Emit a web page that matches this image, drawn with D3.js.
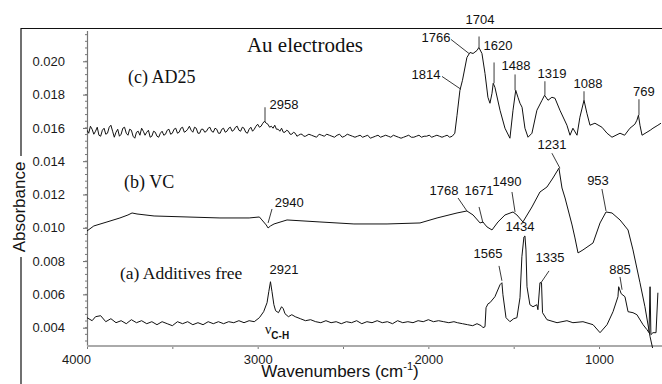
<!DOCTYPE html>
<html><head><meta charset="utf-8">
<script src="https://cdn.jsdelivr.net/npm/d3@7"></script>
<style>
html,body{margin:0;padding:0;background:#fff;}
svg{display:block;}
</style></head>
<body>
<svg id="chart" width="662" height="384"></svg>
<script>
// FTIR spectra on Au electrodes: [wavenumber (cm-1), absorbance]
const spectrumA = [ // (a) additives free
  [4000,.00460],[3970,.00442],[3950,.00466],[3920,.00472],[3890,.00436],[3860,.00454],[3830,.00430],[3800,.00442],
  [3770,.00424],[3740,.00448],[3710,.00430],[3680,.00442],[3650,.00424],[3620,.00436],[3590,.00418],[3560,.00436],
  [3530,.00424],[3500,.00412],[3470,.00436],[3440,.00424],[3410,.00436],[3380,.00418],[3350,.00430],[3320,.00418],
  [3290,.00436],[3260,.00424],[3230,.00436],[3200,.00424],[3170,.00436],[3140,.00430],[3110,.00442],[3080,.00430],
  [3050,.00442],[3020,.00436],[2990,.00460],[2965,.00496],[2945,.00550],[2935,.00616],[2925,.00676],[2916,.00616],
  [2905,.00538],[2895,.00502],[2878,.00490],[2860,.00526],[2850,.00514],[2840,.00484],[2820,.00466],[2800,.00478],
  [2780,.00466],[2750,.00454],[2720,.00442],[2690,.00448],[2660,.00436],[2630,.00430],[2600,.00442],[2570,.00430],
  [2540,.00436],[2510,.00424],[2480,.00436],[2450,.00430],[2420,.00442],[2390,.00424],[2360,.00436],[2330,.00430],
  [2300,.00442],[2270,.00430],[2240,.00436],[2210,.00424],[2180,.00442],[2150,.00430],[2120,.00436],[2090,.00430],
  [2060,.00442],[2030,.00436],[2000,.00448],[1970,.00436],[1940,.00442],[1910,.00436],[1880,.00430],[1850,.00436],
  [1830,.00430],[1800,.00424],[1770,.00418],[1740,.00412],[1715,.00424],[1690,.00412],[1680,.00400],[1668,.00406],
  [1662,.00520],[1650,.00544],[1639,.00550],[1610,.00586],[1580,.00658],[1569,.00670],[1563,.00598],[1545,.00460],
  [1522,.00436],[1500,.00454],[1481,.00460],[1463,.00580],[1452,.00826],[1440,.00945],[1434,.00951],[1428,.00867],
  [1422,.00646],[1405,.00538],[1387,.00526],[1364,.00538],[1358,.00508],[1346,.00670],[1337,.00670],[1331,.00490],
  [1305,.00448],[1246,.00430],[1188,.00442],[1153,.00430],[1094,.00436],[1035,.00418],[994,.00370],[953,.00418],
  [918,.00496],[889,.00586],[885,.00646],[870,.00604],[848,.00586],[830,.00496],[801,.00490],[778,.00478],
  [742,.00418],[719,.00388],[707,.00370],[701,.00646],[696,.00358],[684,.00370],[666,.00370],[655,.00610]
];
const spectrumB = [ // (b) VC
  [4000,.00981],[3960,.01011],[3883,.01035],[3807,.01059],[3760,.01077],[3736,.01089],[3707,.01083],[3607,.01071],
  [3414,.01065],[3221,.01059],[3050,.01059],[2990,.01065],[2975,.01047],[2950,.01017],[2939,.00999],[2925,.01011],
  [2904,.01023],[2828,.01047],[2635,.01035],[2436,.01023],[2242,.01023],[2049,.01029],[1949,.01059],[1832,.01089],
  [1774,.01101],[1738,.01077],[1697,.01029],[1680,.01035],[1671,.01023],[1656,.01005],[1627,.00987],[1592,.01035],
  [1551,.01077],[1504,.01095],[1481,.01077],[1446,.01035],[1393,.01125],[1346,.01215],[1305,.01245],[1270,.01299],
  [1235,.01358],[1217,.01239],[1199,.01179],[1158,.01017],[1141,.00939],[1123,.00849],[1094,.00867],[1035,.00909],
  [994,.01029],[959,.01095],[924,.01089],[877,.01047],[830,.00987],[801,.00867],[760,.00670],[731,.00526],
  [701,.00346],[684,.00268]
];
const spectrumC = [ // (c) AD25
  [4000,.01586],[3990,.01568],[3980,.01610],[3970,.01592],[3960,.01562],[3950,.01580],[3940,.01604],[3930,.01556],
  [3920,.01550],[3910,.01586],[3900,.01598],[3890,.01562],[3880,.01568],[3870,.01604],[3860,.01616],[3850,.01580],
  [3840,.01544],[3830,.01574],[3820,.01592],[3810,.01550],[3800,.01562],[3790,.01598],[3780,.01604],[3770,.01568],
  [3760,.01556],[3750,.01592],[3740,.01586],[3730,.01550],[3720,.01538],[3710,.01574],[3700,.01580],[3690,.01556],
  [3680,.01598],[3670,.01580],[3660,.01556],[3650,.01574],[3640,.01586],[3630,.01544],[3620,.01550],[3610,.01580],
  [3600,.01574],[3590,.01550],[3580,.01544],[3570,.01568],[3560,.01580],[3550,.01556],[3540,.01562],[3530,.01586],
  [3520,.01592],[3510,.01562],[3500,.01568],[3490,.01592],[3480,.01598],[3470,.01568],[3460,.01574],[3450,.01598],
  [3440,.01604],[3430,.01574],[3420,.01580],[3410,.01592],[3400,.01610],[3390,.01586],[3380,.01574],[3370,.01604],
  [3360,.01598],[3350,.01568],[3340,.01568],[3330,.01592],[3320,.01592],[3310,.01574],[3300,.01580],[3290,.01598],
  [3280,.01604],[3270,.01580],[3260,.01574],[3250,.01598],[3240,.01592],[3230,.01568],[3220,.01568],[3210,.01592],
  [3200,.01598],[3190,.01574],[3180,.01580],[3170,.01598],[3160,.01604],[3150,.01580],[3140,.01586],[3130,.01604],
  [3120,.01610],[3110,.01586],[3100,.01580],[3090,.01604],[3080,.01598],[3070,.01574],[3060,.01568],[3050,.01592],
  [3040,.01604],[3030,.01580],[3020,.01592],[3010,.01610],[3000,.01622],[2990,.01604],[2980,.01610],[2970,.01628],
  [2960,.01640],[2950,.01628],[2940,.01622],[2930,.01604],[2920,.01610],[2910,.01598],[2900,.01616],[2890,.01592],
  [2880,.01592],[2870,.01580],[2860,.01598],[2850,.01574],[2840,.01574],[2830,.01586],[2820,.01580],[2810,.01562],
  [2800,.01562],[2790,.01574],[2780,.01568],[2770,.01550],[2760,.01556],[2750,.01562],[2740,.01562],[2730,.01550],
  [2720,.01550],[2700,.01562],[2685,.01556],[2670,.01550],[2655,.01544],[2640,.01562],[2625,.01556],[2610,.01550],
  [2595,.01562],[2580,.01556],[2565,.01550],[2550,.01544],[2535,.01556],[2520,.01562],[2505,.01544],[2490,.01550],
  [2475,.01562],[2460,.01556],[2445,.01550],[2430,.01544],[2415,.01550],[2400,.01556],[2385,.01544],[2370,.01550],
  [2355,.01556],[2340,.01538],[2325,.01544],[2310,.01550],[2295,.01556],[2280,.01544],[2265,.01550],[2250,.01556],
  [2235,.01550],[2220,.01544],[2205,.01556],[2190,.01550],[2175,.01544],[2160,.01538],[2145,.01544],[2130,.01550],
  [2115,.01556],[2100,.01544],[2085,.01544],[2070,.01550],[2055,.01556],[2040,.01544],[2025,.01550],[2010,.01550],
  [1995,.01556],[1980,.01544],[1965,.01550],[1950,.01556],[1935,.01550],[1920,.01544],[1905,.01550],[1890,.01556],
  [1875,.01544],[1860,.01550],[1845,.01568],[1832,.01676],
  [1815,.01826],[1800,.01886],[1774,.02023],[1756,.02053],[1738,.02047],[1715,.02065],[1704,.02083],[1686,.02047],
  [1668,.01927],[1651,.01784],[1639,.01748],[1627,.01808],[1620,.01868],[1610,.01844],[1580,.01706],[1551,.01598],
  [1522,.01538],[1504,.01706],[1488,.01826],[1475,.01784],[1463,.01748],[1451,.01724],[1434,.01598],[1416,.01544],
  [1393,.01568],[1364,.01706],[1334,.01766],[1319,.01796],[1299,.01766],[1276,.01784],[1258,.01778],[1229,.01706],
  [1188,.01616],[1170,.01556],[1153,.01598],[1129,.01556],[1112,.01664],[1088,.01766],[1071,.01688],[1053,.01616],
  [1024,.01628],[983,.01604],[953,.01568],[924,.01544],[877,.01568],[850,.01556],[819,.01598],[790,.01622],
  [778,.01646],[769,.01676],[760,.01616],[748,.01556],[719,.01574],[700,.01586],[684,.01598],[655,.01616],[637,.01628]
];

const xTickValues = [4000, 3500, 3000, 2500, 2000, 1500, 1000];
const xTickLabels = ["4000", "", "3000", "", "2000", "", "1000"];
const yTickValues = [0.004, 0.006, 0.008, 0.010, 0.012, 0.014, 0.016, 0.018, 0.020];

// Band assignments: label text, label anchor and optional leader line (wavenumber, absorbance)
const peakLabels = [
  {text:"1704", at:[1697,.02227], leader:[[1703,.02149],[1703,.02083]]},
  {text:"1766", at:[1955,.02113], leader:[[1867,.02131],[1762,.02047]]},
  {text:"1620", at:[1592,.02065], leader:[[1615,.01993],[1615,.01868]]},
  {text:"1814", at:[2014,.01892], leader:[[1920,.01909],[1809,.01832]]},
  {text:"1488", at:[1486,.01945], leader:[[1492,.01921],[1492,.01826]]},
  {text:"1319", at:[1276,.01898], leader:[[1317,.01880],[1317,.01796]]},
  {text:"1088", at:[1065,.01838], leader:[[1088,.01820],[1088,.01766]]},
  {text:"769",  at:[737,.01790],  leader:[[766,.01772],[766,.01676]]},
  {text:"2958", at:[2846,.01712], leader:[[2957,.01724],[2957,.01634]]},
  {text:"1231", at:[1276,.01472], leader:[[1276,.01448],[1229,.01358]]},
  {text:"953",  at:[1006,.01257], leader:[[983,.01233],[959,.01101]]},
  {text:"1768", at:[1908,.01197], leader:[[1826,.01179],[1774,.01101]]},
  {text:"1671", at:[1703,.01197], leader:[[1703,.01125],[1680,.01029]]},
  {text:"1490", at:[1539,.01251], leader:[[1510,.01215],[1492,.01095]]},
  {text:"1434", at:[1463,.00981]},
  {text:"1565", at:[1651,.00819], leader:[[1586,.00771],[1569,.00682]]},
  {text:"1335", at:[1287,.00795], leader:[[1293,.00741],[1340,.00670]]},
  {text:"885",  at:[877,.00723],  leader:[[877,.00705],[865,.00628]]},
  {text:"2921", at:[2846,.00723]},
  {text:"2940", at:[2815,.01125], leader:[[2916,.01113],[2939,.01029]]}
];
const seriesLabels = [
  {text:"Au electrodes", at:[3063,.02056], size:21},
  {text:"(c) AD25", at:[3760,.0187], size:18},
  {text:"(b) VC", at:[3783,.0124], size:18},
  {text:"(a) Additives free", at:[3807,.00694], size:17.5}
];

const svg = d3.select("#chart");
const W = 662, H = 384;
const plot = {left:87, right:662, top:28, bottom:346};

const x = d3.scaleLinear().domain([4000, 631]).range([plot.left, plot.right]);
const y = d3.scaleLinear().domain([0.0029, 0.0220]).range([plot.bottom, plot.top]);

const sans = "'Liberation Sans', Arial, sans-serif";
const serif = "'Liberation Serif', 'Times New Roman', serif";

svg.append("rect").attr("width", W).attr("height", H).attr("fill", "#fff");

// figure frame: top rule and left rule broken around the y title
svg.append("line").attr("x1", 21).attr("x2", W).attr("y1", 28.5).attr("y2", 28.5)
  .attr("stroke", "#111").attr("stroke-width", 1.2);
svg.append("line").attr("x1", 21).attr("x2", 21).attr("y1", 28).attr("y2", 156)
  .attr("stroke", "#111").attr("stroke-width", 1.2);
svg.append("line").attr("x1", 21).attr("x2", 21).attr("y1", 257).attr("y2", H)
  .attr("stroke", "#111").attr("stroke-width", 1.2);

// clip for the spectra
svg.append("clipPath").attr("id", "plotClip").append("rect")
  .attr("x", plot.left).attr("y", plot.top)
  .attr("width", plot.right - plot.left).attr("height", plot.bottom - plot.top + 2);

// y axis
const yAxis = d3.axisLeft(y).tickValues(yTickValues).tickFormat(d3.format(".3f"))
  .tickSize(4).tickPadding(18);
const gy = svg.append("g").attr("transform", `translate(${plot.left},0)`).call(yAxis);
gy.select(".domain").remove();
gy.selectAll(".tick line").attr("stroke", "#666");
gy.selectAll(".tick text").attr("font-family", sans).attr("font-size", 13).attr("fill", "#1a1a1a");
gy.append("line").attr("x1", 0.5).attr("x2", 0.5).attr("y1", plot.top + 3).attr("y2", plot.bottom)
  .attr("stroke", "#777").attr("stroke-width", 1.2);
gy.selectAll(".minor").data(d3.range(0.0032, 0.0220, 0.0004))
  .enter().append("line").attr("class", "minor")
  .attr("x1", -2).attr("x2", 0).attr("y1", d => y(d)).attr("y2", d => y(d))
  .attr("stroke", "#777");

// x axis
const xAxis = d3.axisBottom(x).tickValues(xTickValues)
  .tickFormat((d, i) => xTickLabels[i]).tickSize(3).tickPadding(6);
const gx = svg.append("g").attr("transform", `translate(0,${plot.bottom})`).call(xAxis);
gx.select(".domain").remove();
gx.append("line").attr("x1", plot.left).attr("x2", plot.right).attr("y1", 0).attr("y2", 0)
  .attr("stroke", "#aaa").attr("stroke-width", 2);
gx.selectAll(".tick line").attr("stroke", "#777");
gx.selectAll(".tick text").attr("font-family", sans).attr("font-size", 13).attr("fill", "#1a1a1a")
  .attr("dx", d => d === 4000 ? -11 : 0);

// axis titles
svg.append("text").attr("transform", "translate(25,207) rotate(-90)")
  .attr("text-anchor", "middle").attr("font-family", sans).attr("font-size", 17)
  .attr("fill", "#111").text("Absorbance");
const xt = svg.append("text").attr("x", 340).attr("y", 377).attr("text-anchor", "middle")
  .attr("font-family", sans).attr("font-size", 17).attr("fill", "#111");
xt.append("tspan").text("Wavenumbers (cm");
xt.append("tspan").attr("dy", -7).attr("font-size", 11).text("-1");
xt.append("tspan").attr("dy", 7).text(")");

// spectra
const line = d3.line().x(d => x(d[0])).y(d => y(d[1]));
const curves = svg.append("g").attr("clip-path", "url(#plotClip)");
[spectrumA, spectrumB, spectrumC].forEach(s => {
  curves.append("path").datum(s).attr("d", line)
    .attr("fill", "none").attr("stroke", "#111").attr("stroke-width", 1)
    .attr("stroke-linejoin", "round");
});

// leader lines and band labels
const ann = svg.append("g");
peakLabels.filter(p => p.leader).forEach(p => {
  ann.append("line")
    .attr("x1", x(p.leader[0][0])).attr("y1", y(p.leader[0][1]))
    .attr("x2", x(p.leader[1][0])).attr("y2", y(p.leader[1][1]))
    .attr("stroke", "#222").attr("stroke-width", 0.9);
});
ann.selectAll("text.peak").data(peakLabels).enter().append("text").attr("class", "peak")
  .attr("x", d => x(d.at[0])).attr("y", d => y(d.at[1]))
  .attr("text-anchor", "middle").attr("font-family", sans).attr("font-size", 13)
  .attr("fill", "#111").text(d => d.text);

// series captions
ann.selectAll("text.series").data(seriesLabels).enter().append("text").attr("class", "series")
  .attr("x", d => x(d.at[0])).attr("y", d => y(d.at[1]))
  .attr("font-family", serif).attr("font-size", d => d.size).attr("fill", "#111").text(d => d.text);

// C-H stretching mark
const nu = ann.append("text").attr("x", x(2957)).attr("y", y(0.00365))
  .attr("font-family", serif).attr("font-size", 14).attr("fill", "#111");
nu.append("tspan").text("ν");
nu.append("tspan").attr("dy", 5).attr("font-family", sans).attr("font-weight", "bold")
  .attr("font-size", 10).text("C-H");
</script>
</body></html>
